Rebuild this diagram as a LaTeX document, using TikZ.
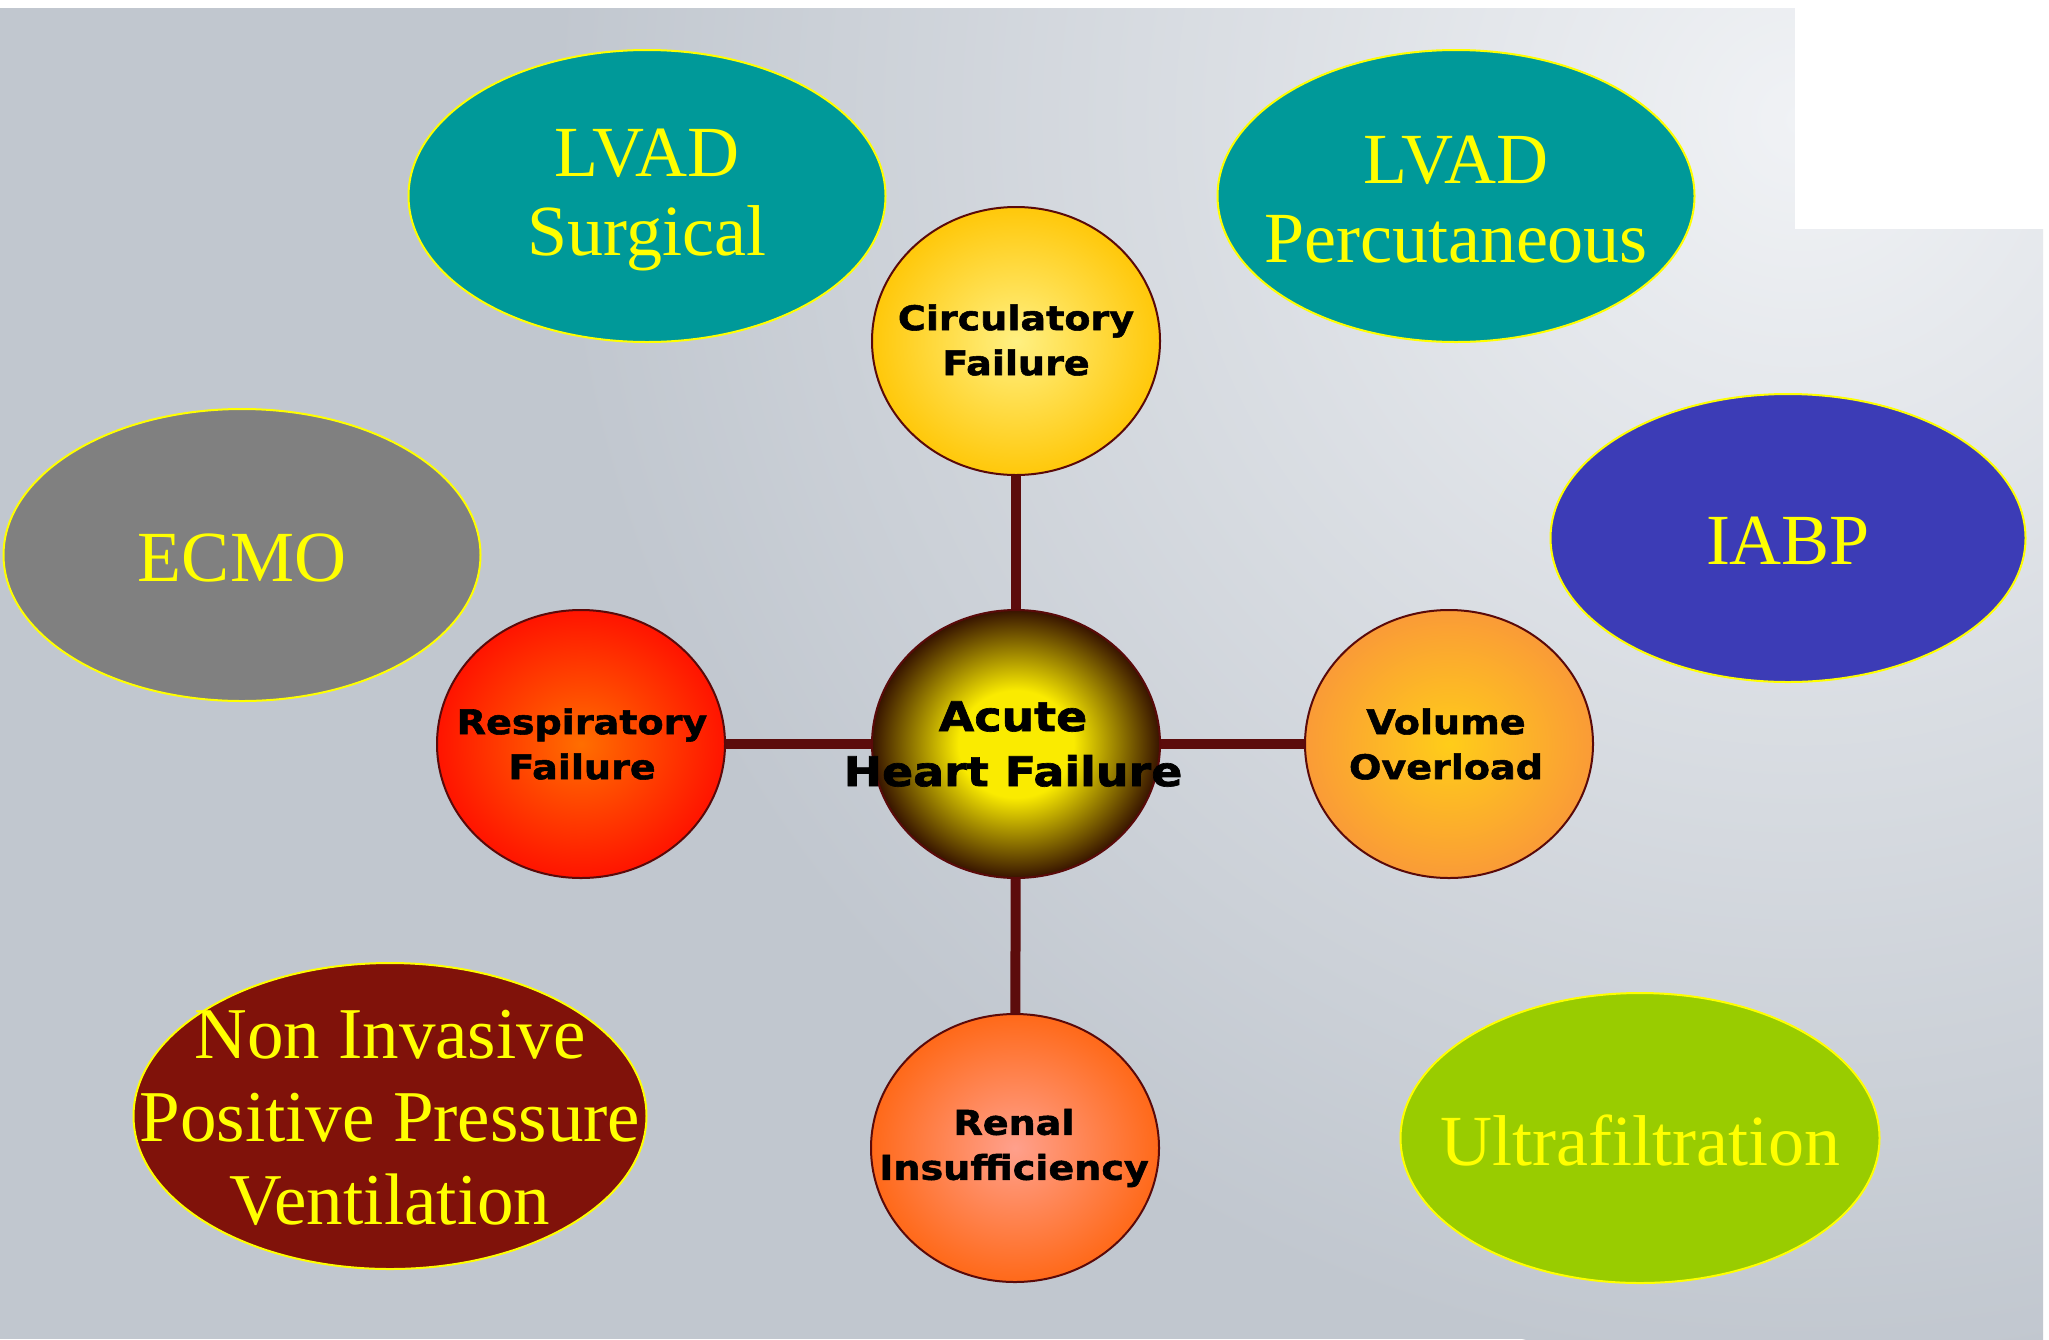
\documentclass[tikz,border=0pt]{standalone}
\usepackage{fontspec}
\setmainfont{Liberation Serif}
\newfontfamily\circfont[FakeStretch=1.12,FakeBold=1.6]{DejaVu Sans}
\usetikzlibrary{shapes.geometric}
\pgfdeclarelayer{back}
\pgfdeclarelayer{conn}
\pgfsetlayers{back,conn,main}

\definecolor{bgbase}{RGB}{193,199,207}
\definecolor{bglight}{RGB}{240,242,245}
\definecolor{lvadteal}{RGB}{0,153,153}
\definecolor{ecmogray}{RGB}{128,128,128}
\definecolor{iabpblue}{RGB}{60,60,182}
\definecolor{nippvred}{RGB}{128,18,10}
\definecolor{ufgreen}{RGB}{153,204,0}
\definecolor{txtyellow}{RGB}{255,255,0}
\definecolor{ringcol}{RGB}{90,10,10}
\definecolor{conncol}{RGB}{92,12,12}
\definecolor{hfA}{RGB}{250,235,0}
\definecolor{hfB}{RGB}{55,20,0}
\definecolor{cfA}{RGB}{255,240,130}
\definecolor{cfB}{RGB}{255,200,10}
\definecolor{rfA}{RGB}{255,110,0}
\definecolor{rfB}{RGB}{255,20,0}
\definecolor{voA}{RGB}{255,205,25}
\definecolor{voB}{RGB}{250,155,55}
\definecolor{riA}{RGB}{255,160,140}
\definecolor{riB}{RGB}{255,105,25}

\pgfdeclareradialshading{shHeart}{\pgfpoint{0bp}{0bp}}{color(0bp)=(hfA); color(10bp)=(hfA); color(25bp)=(hfB); color(50bp)=(hfB)}
\pgfdeclareradialshading{shCirc}{\pgfpoint{0bp}{0bp}}{color(0bp)=(cfA); color(25bp)=(cfB); color(50bp)=(cfB)}
\pgfdeclareradialshading{shResp}{\pgfpoint{0bp}{0bp}}{color(0bp)=(rfA); color(25bp)=(rfB); color(50bp)=(rfB)}
\pgfdeclareradialshading{shVol}{\pgfpoint{0bp}{0bp}}{color(0bp)=(voA); color(25bp)=(voB); color(50bp)=(voB)}
\pgfdeclareradialshading{shRenal}{\pgfpoint{0bp}{0bp}}{color(0bp)=(riA); color(25bp)=(riB); color(50bp)=(riB)}

\tikzset{
  outerell/.style={ellipse, draw=txtyellow, line width=2pt, minimum width=477pt, minimum height=292pt, inner sep=0pt},
  outertext/.style={text=txtyellow, font=\fontsize{72}{79}\selectfont, align=center, inner sep=0pt},
  failure/.style={ellipse, draw=ringcol, line width=2pt, minimum width=288pt, minimum height=268pt, inner sep=0pt},
  ftext/.style={font=\circfont\bfseries\fontsize{34}{45}\selectfont, align=center, inner sep=0pt, text=black},
  htext/.style={font=\circfont\bfseries\fontsize{41}{55}\selectfont, align=center, inner sep=0pt, text=black},
  conn/.style={draw=conncol, line width=10pt}
}

\begin{document}
\begin{tikzpicture}[x=1pt, y=-1pt]
\useasboundingbox (0,0) rectangle (2049,1339);

% background
\begin{pgfonlayer}{back}
  \fill[white] (0,0) rectangle (2049,1339);
  \fill[bgbase] (0,8) rectangle (2043,1339);
  \begin{scope}
    \clip (0,8) rectangle (2043,1339);
    \shade[inner color=bglight, outer color=bgbase] (1800,120) circle (1250);
  \end{scope}
  \fill[white] (1795,0) rectangle (2049,229);
\end{pgfonlayer}

% outer ellipses
\node[outerell, fill=lvadteal] (lvs) at (647,196) {};
\node[outertext] (lvs-t) at (647,200) {LVAD\\Surgical};
\node[outerell, fill=lvadteal] (lvp) at (1456,196) {};
\node[outertext] (lvp-t) at (1456,200) {LVAD\\Percutaneous};
\node[outerell, fill=ecmogray] (ecmo) at (242,555) {};
\node[outertext] (ecmo-t) at (242,558) {ECMO};
\node[outerell, fill=iabpblue, minimum width=475pt, minimum height=288pt] (iabp) at (1788,538) {};
\node[outertext] (iabp-t) at (1788,541) {IABP};
\node[outerell, fill=nippvred, minimum width=513pt, minimum height=306pt] (nippv) at (390,1116) {};
\node[outertext, font=\fontsize{73}{83}\selectfont] (nippv-t) at (390,1118) {Non Invasive\\Positive Pressure\\Ventilation};
\node[outerell, fill=ufgreen, minimum width=479pt, minimum height=290pt] (uf) at (1640,1138) {};
\node[outertext] (uf-t) at (1640,1140) {Ultrafiltration};

% failure circles
\node[failure, shading=shHeart] (ahf) at (1016,744) {};
\node[htext] (ahf-t) at (1013,744) {Acute\\Heart Failure};
\node[failure, shading=shCirc] (circ) at (1016,341) {};
\node[ftext] (circ-t) at (1016,340) {Circulatory\\Failure};
\node[failure, shading=shResp] (resp) at (581,744) {};
\node[ftext] (resp-t) at (582,744) {Respiratory\\Failure};
\node[failure, shading=shVol] (vol) at (1449,744) {};
\node[ftext] (vol-t) at (1446,744) {Volume\\Overload};
\node[failure, shading=shRenal] (renal) at (1015,1148) {};
\node[ftext] (renal-t) at (1014,1148) {Renal\\Insufficiency};

% connectors
\begin{pgfonlayer}{conn}
  \draw[conn] (ahf) -- (circ);
  \draw[conn] (ahf) -- (resp);
  \draw[conn] (ahf) -- (vol);
  \draw[conn] (ahf) -- (renal);
\end{pgfonlayer}
\end{tikzpicture}
\end{document}
